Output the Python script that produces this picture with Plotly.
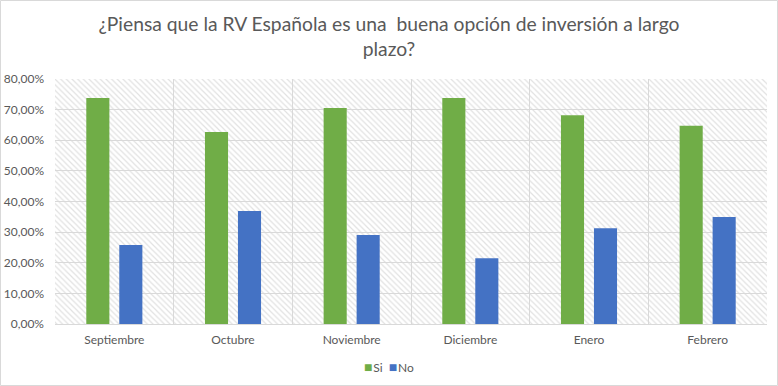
import plotly.graph_objects as go

months = ["Septiembre", "Octubre", "Noviembre", "Diciembre", "Enero", "Febrero"]
si_values = [0.738, 0.627, 0.705, 0.738, 0.682, 0.647]
no_values = [0.258, 0.369, 0.291, 0.215, 0.313, 0.349]
y_ticks = [0, 0.1, 0.2, 0.3, 0.4, 0.5, 0.6, 0.7, 0.8]
series_names = ["Si", "No"]
series_colors = ["#70ad47", "#4472c4"]

W, H = 778, 386
L, R, T, B = 55, 11, 79, 62
pw, ph = W - L - R, H - T - B

font_fam = "Lato, Calibri, sans-serif"
txt = "#595959"
grid = "#d9d9d9"

fig = go.Figure()

# hatched plot-area background (own subplot, drawn first)
fig.add_trace(go.Scatter(
    x=[0, 0, 1, 1, 0], y=[0, 1, 1, 0, 0], xaxis="x", yaxis="y",
    mode="lines", fill="toself", line=dict(width=0),
    fillcolor="white",
    fillpattern=dict(shape="\\", fgcolor="#c4c4c4", bgcolor="white", size=4, solidity=0.3),
    hoverinfo="skip", showlegend=False,
))

for name, vals, col in zip(series_names, [si_values, no_values], series_colors):
    fig.add_trace(go.Bar(name=name, x=months, y=vals, xaxis="x2", yaxis="y2",
                         marker=dict(color=col, line=dict(width=0)), showlegend=False))

border = dict(type="rect", xref="paper", yref="paper",
              x0=(0.5 - L) / pw, x1=(W - 0.5 - L) / pw,
              y0=(T + ph - (H - 0.5)) / ph, y1=(T + ph - 0.5) / ph,
              line=dict(color=grid, width=1), layer="above")

legend_text = "&nbsp;&nbsp;".join(
    f'<span style="color:{c};font-size:14px">■</span>&#8202;{n}'
    for n, c in zip(series_names, series_colors)
)

fig.update_layout(
    width=W, height=H,
    margin=dict(l=L, r=R, t=T, b=B, autoexpand=False),
    paper_bgcolor="white",
    plot_bgcolor="rgba(0,0,0,0)",
    separators=",.",
    barmode="group",
    bargap=0.444,
    bargroupgap=0.30,
    showlegend=False,
    font=dict(family=font_fam, color=txt, size=12),
    title=dict(
        text="¿Piensa que la RV Española es una  buena opción de inversión a largo<br>plazo?",
        x=0.5, xref="container", xanchor="center",
        y=1 - 31 / H, yref="container", yanchor="top",
        font=dict(family=font_fam, size=19.3, color=txt),
    ),
    xaxis=dict(range=[0, 1], visible=False, fixedrange=True, automargin=False),
    yaxis=dict(range=[0, 1], visible=False, fixedrange=True, automargin=False),
    xaxis2=dict(
        type="category", tickson="boundaries", showgrid=True, gridcolor=grid, gridwidth=1,
        ticks="", showline=True, linecolor=grid, linewidth=1, ticklabelstandoff=5,
        tickfont=dict(size=12, color=txt), anchor="y2", automargin=False,
        domain=[0, 1],
    ),
    yaxis2=dict(
        range=[0, 0.8], tickvals=y_ticks, tickformat=".2%", showgrid=True,
        gridcolor=grid, gridwidth=1, zeroline=False, showline=False, ticks="",
        ticklabelstandoff=10, automargin=False,
        tickfont=dict(size=12, color=txt), anchor="x2", domain=[0, 1],
    ),
    annotations=[dict(
        text=legend_text, xref="paper", yref="paper",
        x=(W / 2 - L) / pw, y=-(366 - (T + ph)) / ph,
        xanchor="center", yanchor="middle", showarrow=False,
        font=dict(size=12, color=txt, family=font_fam),
    )],
    shapes=[border],
    hovermode=False,
)

fig.write_html("out.html", post_script="document.body.style.margin='0';",
               config={"displayModeBar": False})
